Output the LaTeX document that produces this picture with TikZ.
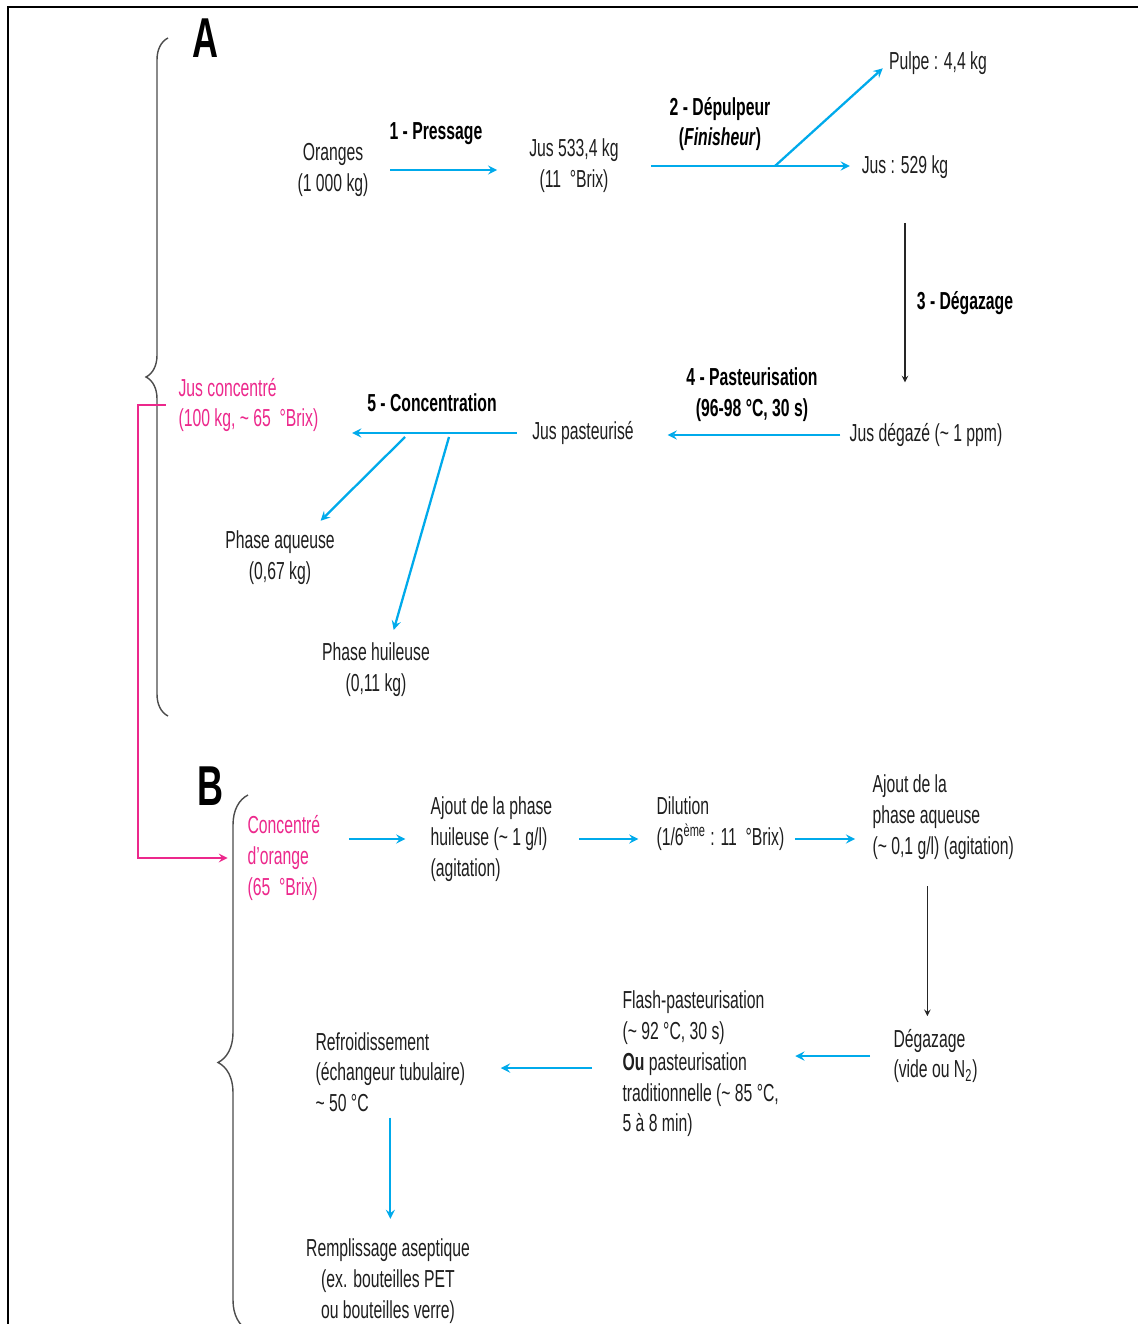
\documentclass[tikz,border=0pt]{standalone}
\usepackage{fontspec}
\setmainfont{Liberation Sans}[FakeStretch=0.64]
\usepackage{tikz}
\usetikzlibrary{positioning}
\usetikzlibrary{arrows}
\usetikzlibrary{decorations.pathreplacing}
\definecolor{flowblue}{RGB}{0,170,235}
\definecolor{concpink}{RGB}{236,40,140}
\definecolor{txtgray}{RGB}{30,30,30}

\begin{document}
\begin{tikzpicture}[
            x = 0.02cm, y = -0.02cm, % one unit = one pixel of the page
            > = stealth, % arrow head style
            semithick % line style
        ]

        \tikzstyle{txt}=[inner sep=0pt, align=center, text=txtgray,
            font=\fontsize{14}{17.5}\selectfont]
        \tikzstyle{txtl}=[txt, align=left, anchor=west]
        \tikzstyle{steplabel}=[txt, text=black,
            font=\fontsize{14}{17.5}\selectfont\bfseries]
        \tikzstyle{part}=[inner sep=0pt, font=\fontsize{32}{32}\selectfont\bfseries]
        \tikzstyle{flow}=[->, flowblue, line width=1.3pt]
        \tikzstyle{pinkflow}=[->, concpink, line width=1.2pt]
        \tikzstyle{down}=[->, black!85, line width=0.7pt]
        \tikzstyle{bracket}=[decorate, gray!60!black, line width=0.8pt]

        \useasboundingbox (0,0) rectangle (1138,1324);

	% frame
        \draw[line width=1.7pt] (8,1330) -- (8,7) -- (1145,7);

	% part A
        \node[part] (A) at (205,38) {A};
        \draw[bracket, decoration={brace, amplitude=0.44cm}] (168,716) -- (168,38);

        \node[txt] (oranges) at (333,170) {Oranges\\(1 000 kg)};
        \node[txt] (jus1) at (574,166) {Jus 533,4 kg\\(11 \ °Brix)};
        \node[txt] (pulpe) at (938,63) {Pulpe : 4,4 kg};
        \node[txt] (jus2) at (905,167) {Jus : 529 kg};
        \node[txt] (jdeg) at (926,435) {Jus dégazé (\textasciitilde{} 1 ppm)};
        \node[txt] (jpast) at (583,433) {Jus pasteurisé};
        \node[txtl, text=concpink] (jconc) at (178,405) {Jus concentré\\(100 kg, \textasciitilde{} 65 \ °Brix)};
        \node[txt] (aqueuse) at (280,558) {Phase aqueuse\\(0,67 kg)};
        \node[txt] (huileuse) at (376,670) {Phase huileuse\\(0,11 kg)};

        \node[steplabel] (l1) at (436,134) {1 - Pressage};
        \node[steplabel] (l2) at (720,124) {2 - Dépulpeur\\(\textit{Finisheur})};
        \node[steplabel] (l3) at (965,303) {3 - Dégazage};
        \node[steplabel] (l4) at (752,395) {4 - Pasteurisation\\(96-98 °C, 30 s)};
        \node[steplabel] (l5) at (432,403) {5 - Concentration};

        \coordinate (dsplit) at (775,166);
        \coordinate (csplit1) at (405,437);
        \coordinate (csplit2) at (449,437);

        \draw[flow, shorten <=12pt, shorten >=18pt] (oranges.east) -- (oranges.east -| jus1.west);
        \draw[flow, shorten <=18pt, shorten >=6.5pt] (jus1.east) -- (jus1.east -| jus2.west);
        \draw[flow, shorten >=4.5pt] (dsplit) -- (pulpe.west);
        \draw[down, shorten <=25pt, shorten >=23pt] (jus2.south) -- (jus2.south |- jdeg.north);
        \draw[flow, shorten <=5pt, shorten >=19pt] (jdeg.west) -- (jdeg.west -| jpast.east);
        \draw[flow, shorten <=8.5pt, shorten >=19pt] (jpast.west) -- (jpast.west -| jconc.east);
        \draw[flow, shorten >=8pt] (csplit1) -- ([xshift=-14pt]aqueuse.north east);
        \draw[flow, shorten >=7.5pt] (csplit2) -- ([xshift=8pt]huileuse.north);

	% part B
        \node[part] (B) at (210,786) {B};
        \draw[bracket, decoration={brace, amplitude=0.6cm}] (248,1330) -- (248,795);

        \node[txtl, text=concpink] (concor) at (247,858) {Concentré\\d'orange\\(65 \ °Brix)};
        \node[txtl] (ajh) at (430,839) {Ajout de la phase\\huileuse (\textasciitilde{} 1 g/l)\\(agitation)};
        \node[txtl] (dil) at (656,824) {Dilution\\(1/6\textsuperscript{ème} : 11 \ °Brix)};
        \node[txtl] (aja) at (872,817) {Ajout de la\\phase aqueuse\\(\textasciitilde{} 0,1 g/l) (agitation)};
        \node[txtl] (degaz) at (893,1056) {Dégazage\\(vide ou N\textsubscript{2})};
        \node[txtl] (flash) at (622,1064) {Flash-pasteurisation\\(\textasciitilde{} 92 °C, 30 s)\\\textbf{Ou} pasteurisation\\traditionnelle (\textasciitilde{} 85 °C,\\5 à 8 min)};
        \node[txtl] (refr) at (315,1072) {Refroidissement\\(échangeur tubulaire)\\\textasciitilde{} 50 °C};
        \node[txt] (rempl) at (388,1281) {Remplissage aseptique\\(ex. bouteilles PET\\ou bouteilles verre)};

        % concentrate carried over from A to B
        \draw[pinkflow] ([xshift=-7pt]jconc.west) -- ([xshift=-23pt]jconc.west) |- ([xshift=-11pt]concor.west);

        \draw[flow, shorten <=16pt, shorten >=14pt] (concor.east |- ajh.west) -- (ajh.west);
        \draw[flow, shorten <=15pt, shorten >=10pt] (ajh.east) -- (ajh.east -| dil.west);
        \draw[flow, shorten <=5.7pt, shorten >=9.6pt] (dil.east |- ajh.east) -- (aja.west |- ajh.east);
        \draw[down, shorten <=15pt, shorten >=7pt] ([xshift=-9pt]aja.south) -- ([xshift=-9pt]aja.south |- degaz.north);
        \draw[flow, shorten <=13pt, shorten >=9pt] (degaz.west) -- (degaz.west -| flash.east);
        \draw[flow, shorten <=17pt, shorten >=20pt] ([yshift=-2.3pt]flash.west) -- ([yshift=-2.3pt]flash.west -| refr.east);
        \draw[flow, shorten <=3pt, shorten >=11pt] (refr.south) -- (refr.south |- rempl.north);

  \end{tikzpicture}
\end{document}
